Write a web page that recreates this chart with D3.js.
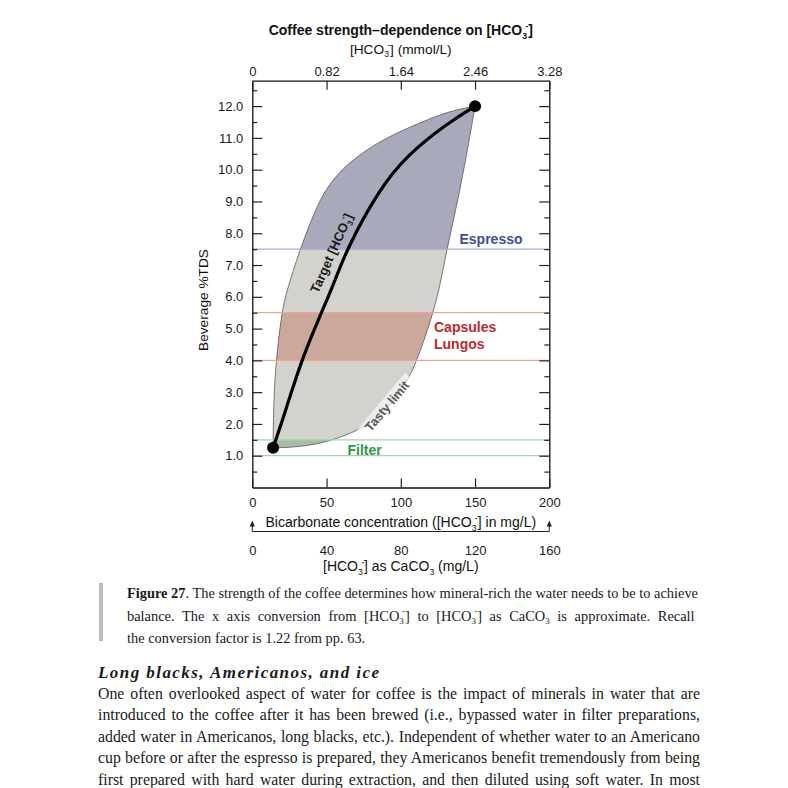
<!DOCTYPE html>
<html><head><meta charset="utf-8">
<script src="https://cdn.jsdelivr.net/npm/d3@7"></script>
<style>body{margin:0;background:#fff}svg{display:block}</style>
</head><body>
<svg id="c" width="788" height="788"></svg>
<script>
// ---------------- data ----------------
const xTicksMg = [0, 50, 100, 150, 200];
const xTicksMmol = [0, 0.82, 1.64, 2.46, 3.28];
const xTicksCaCO3 = [0, 40, 80, 120, 160];
const yTicks = [1, 2, 3, 4, 5, 6, 7, 8, 9, 10, 11, 12];
const yMinor = [0.5, 1.5, 2.5, 3.5, 4.5, 5.5, 6.5, 7.5, 8.5, 9.5, 10.5, 11.5, 12.5];

// upper (left) boundary of the region, mg/L vs %TDS
const upperX = [14, 14, 14.5, 16, 19.8, 23.2, 32.2, 40, 48, 58.5, 70.4, 89.5, 113, 133, 150];
const upperY = [1.25, 1.5, 2.8, 4.0, 5.5, 6.2, 7.5, 8.45, 9.3, 9.92, 10.42, 11.0, 11.48, 11.85, 12.0];
// "tasty limit" (right) boundary
const tastyX = [14, 25, 40, 54, 72, 90, 105, 111, 122, 127, 131, 140, 148, 150];
const tastyY = [1.25, 1.26, 1.33, 1.49, 1.8, 2.35, 3.4, 4.0, 5.5, 6.5, 7.5, 9.35, 11.45, 12.0];
// target [HCO3-] curve
const targetX = [14, 22, 33, 46.5, 54, 63.5, 85, 104, 131, 150];
const targetY = [1.25, 2.35, 4.0, 5.5, 6.3, 7.5, 9.35, 10.45, 11.45, 12.0];
// end points
const endX = [14, 150];
const endY = [1.25, 12.0];
// bands
const espressoLevel = 7.5;
const capsuleBand = [4.0, 5.5];
const filterBand = [1.0, 1.5];

// ---------------- setup ----------------
const svg = d3.select('#c');
const SANS = '"Liberation Sans", Arial, Helvetica, sans-serif';
const SERIF = '"Liberation Serif", "Times New Roman", serif';
const X0 = 252.3, X1 = 549.3, Y0 = 487.5, Y1 = 80.7;
const x = d3.scaleLinear().domain([0, 200]).range([X0, X1]);
const xm = d3.scaleLinear().domain([0, 3.28]).range([X0, X1]);
const xc = d3.scaleLinear().domain([0, 160]).range([X0, X1]);
const y = d3.scaleLinear().domain([0, 12.8]).range([Y0, Y1]);

function rich(t, segs, fs) {
  let cur = 0;
  segs.forEach(s => {
    const [txt, type] = typeof s === 'string' ? [s, 'n'] : s;
    const ts = t.append('tspan').text(txt);
    let target = 0;
    if (type === 'sub') { ts.style('font-size', fs * 0.62 + 'px'); target = fs * 0.25; }
    else if (type === 'sup') { ts.style('font-size', fs * 0.62 + 'px'); target = -fs * 0.42; ts.attr('dx', -fs * 0.12); }
    else if (type === 'b') { ts.style('font-weight', 'bold'); }
    if (target !== cur) ts.attr('dy', target - cur);
    cur = target;
  });
}
const HCO = ['[HCO', ['3', 'sub'], ['-', 'sup'], ']'];

const zip = (a, b) => a.map((v, i) => [v, b[i]]);
const upper = zip(upperX, upperY);
const tasty = zip(tastyX, tastyY);
const target = zip(targetX, targetY);

const line = d3.line().x(d => x(d[0])).y(d => y(d[1])).curve(d3.curveBasis);
const shapeD = line(upper) + 'L' + line(tasty.slice().reverse()).slice(1) + 'Z';

const defs = svg.append('defs');
defs.append('clipPath').attr('id', 'shapeClip').append('path').attr('d', shapeD);

// base fill
svg.append('path').attr('d', shapeD).attr('fill', '#d3d2cd');
const clipped = svg.append('g').attr('clip-path', 'url(#shapeClip)');
clipped.append('rect').attr('x', X0).attr('width', X1 - X0)
  .attr('y', y(12.8)).attr('height', y(espressoLevel) - y(12.8)).attr('fill', '#a9a9bc');
clipped.append('rect').attr('x', X0).attr('width', X1 - X0)
  .attr('y', y(capsuleBand[1])).attr('height', y(capsuleBand[0]) - y(capsuleBand[1])).attr('fill', '#cba899');
clipped.append('rect').attr('x', X0).attr('width', X1 - X0)
  .attr('y', y(filterBand[1])).attr('height', y(filterBand[0]) - y(filterBand[1])).attr('fill', '#a8bca5');
svg.append('path').attr('d', shapeD).attr('fill', 'none').attr('stroke', '#5a5a5a').attr('stroke-width', 0.8);

// band lines
function hline(v, c) {
  svg.append('line').attr('x1', X0).attr('x2', X1).attr('y1', y(v)).attr('y2', y(v))
    .attr('stroke', c).attr('stroke-width', 1.2);
}
hline(espressoLevel, '#a4aad6');
capsuleBand.forEach(v => hline(v, '#e9a696'));
filterBand.forEach(v => hline(v, '#a9d4aa'));

// target curve
svg.append('path').attr('d', line(target)).attr('fill', 'none').attr('stroke', '#000').attr('stroke-width', 3.2);

// tasty limit label
const tl = svg.append('g').attr('transform', 'translate(387,406) rotate(-50)');
tl.append('rect').attr('x', -37).attr('y', -7.5).attr('width', 74).attr('height', 14.5)
  .attr('fill', '#fff').attr('opacity', 0.6);
tl.append('text').attr('text-anchor', 'middle').attr('y', 4.4)
  .style('font-family', SANS).style('font-size', '12.5px').style('font-weight', 'bold')
  .attr('fill', '#555').text('Tasty limit');

// target label
const tg = svg.append('text').attr('transform', 'translate(335.5,255) rotate(-66)')
  .attr('text-anchor', 'middle').style('font-family', SANS).style('font-size', '13px')
  .style('font-weight', 'bold').attr('fill', '#1a1a1a');
rich(tg, ['Target ', ...HCO], 13);

// band labels
function lab(tx, xx, yy, c) {
  svg.append('text').attr('x', xx).attr('y', yy).text(tx).attr('fill', c)
    .style('font-family', SANS).style('font-size', '14px').style('font-weight', 'bold');
}
lab('Espresso', 459.5, 244, '#3a4e96');
lab('Capsules', 434, 331.5, '#c1272d');
lab('Lungos', 434, 348.5, '#c1272d');
lab('Filter', 347.5, 455, '#2e9a47');

// end dots
svg.selectAll('circle.end').data(zip(endX, endY)).join('circle').attr('class', 'end')
  .attr('cx', d => x(d[0])).attr('cy', d => y(d[1])).attr('r', 6).attr('fill', '#000');

// ---------------- axes ----------------
function styleAxis(g) {
  g.attr('font-family', SANS).attr('font-size', 13);
  g.selectAll('text').attr('fill', '#1a1a1a');
  g.selectAll('.tick line').attr('stroke', '#222').attr('stroke-width', 1.2);
  g.select('.domain').attr('stroke', '#111').attr('stroke-width', 1.3);
}
const fmtM = d => d === 0 ? '0' : d.toFixed(2);
svg.append('g').attr('transform', `translate(${X0},0)`)
  .call(d3.axisLeft(y).tickValues(yTicks).tickSize(-10).tickSizeOuter(0).tickPadding(9).tickFormat(d3.format('.1f')))
  .call(styleAxis);
svg.append('g').attr('transform', `translate(${X0},0)`)
  .call(d3.axisLeft(y).tickValues(yMinor).tickSize(-5).tickSizeOuter(0).tickFormat(''))
  .call(styleAxis).call(g => g.select('.domain').remove());
svg.append('g').attr('transform', `translate(${X1},0)`)
  .call(d3.axisRight(y).tickValues(yTicks).tickSize(-10).tickSizeOuter(0).tickFormat(''))
  .call(styleAxis);
svg.append('g').attr('transform', `translate(${X1},0)`)
  .call(d3.axisRight(y).tickValues(yMinor).tickSize(-5).tickSizeOuter(0).tickFormat(''))
  .call(styleAxis).call(g => g.select('.domain').remove());
svg.append('g').attr('transform', `translate(0,${Y1})`)
  .call(d3.axisTop(xm).tickValues(xTicksMmol).tickSize(-9).tickSizeOuter(0).tickPadding(5).tickFormat(fmtM))
  .call(styleAxis);
svg.append('g').attr('transform', `translate(0,${Y0})`)
  .call(d3.axisBottom(x).tickValues(xTicksMg).tickSize(-9).tickSizeOuter(0).tickPadding(10.5))
  .call(styleAxis);
svg.append('g').attr('transform', `translate(0,546)`)
  .call(d3.axisBottom(xc).tickValues(xTicksCaCO3).tickSize(0).tickPadding(0))
  .call(styleAxis).call(g => g.select('.domain').remove());

// arrow line
const AY = 531.5;
svg.append('path').attr('d', `M${X0},${AY}H${X1}M${X0},${AY}V525M${X1},${AY}V525`)
  .attr('fill', 'none').attr('stroke', '#222').attr('stroke-width', 1);
[X0, X1].forEach(ax => svg.append('path')
  .attr('d', `M${ax},520.5L${ax - 2.6},526.5L${ax + 2.6},526.5Z`).attr('fill', '#222'));

// titles
function ctext(xx, yy, segs, fs, bold) {
  const t = svg.append('text').attr('x', xx).attr('y', yy).attr('text-anchor', 'middle')
    .style('font-family', SANS).style('font-size', fs + 'px').attr('fill', '#111');
  if (bold) t.style('font-weight', 'bold');
  rich(t, segs, fs);
  return t;
}
ctext(400.8, 35, ['Coffee strength\u2013dependence on ', ...HCO], 14, true);
ctext(400.8, 54, [...HCO, ' (mmol/L)'], 13.7, false);
ctext(400.8, 527, ['Bicarbonate concentration (', ...HCO, ' in mg/L)'], 14, false);
ctext(400.8, 571, [...HCO, ' as CaCO', ['3', 'sub'], ' (mg/L)'], 14, false);
svg.append('text').attr('transform', 'translate(208,300) rotate(-90)').attr('text-anchor', 'middle')
  .style('font-family', SANS).style('font-size', '13.7px').attr('fill', '#111').text('Beverage %TDS');

// ---------------- caption & body ----------------
svg.append('rect').attr('x', 99).attr('y', 583).attr('width', 4).attr('height', 58).attr('fill', '#bdbdbd');

function para(xx, yy, segs, fs, width, style) {
  const t = svg.append('text').attr('x', xx).attr('y', yy)
    .style('font-family', SERIF).style('font-size', fs + 'px').attr('fill', '#1a1a1a');
  if (style) Object.entries(style).forEach(([k, v]) => t.style(k, v));
  rich(t, segs, fs);
  if (width) {
    const nat = t.node().getComputedTextLength();
    const spaces = (t.text().match(/ /g) || []).length;
    if (spaces) t.style('word-spacing', ((width - nat) / spaces) + 'px');
  }
  return t;
}
const CFS = 14.4, CW = 571, CX = 127;
para(CX, 598, [['Figure 27', 'b'], '. The strength of the coffee determines how mineral-rich the water needs to be to achieve'], CFS, CW);
para(CX, 620.5, ['balance. The x axis conversion from ', ...HCO, ' to ', ...HCO, ' as CaCO', ['3', 'sub'], ' is approximate. Recall'], CFS, CW);
para(CX, 643, ['the conversion factor is 1.22 from pp. 63.'], CFS, 0);

const BFS = 15.8, BW = 602, BX = 98;
para(BX, 678, ['Long blacks, Americanos, and ice'], 17, 0, { 'font-weight': 'bold', 'font-style': 'italic' })
  .attr('textLength', 281).attr('lengthAdjust', 'spacing');
const bodyLines = [
  'One often overlooked aspect of water for coffee is the impact of minerals in water that are',
  'introduced to the coffee after it has been brewed (i.e., bypassed water in filter preparations,',
  'added water in Americanos, long blacks, etc.). Independent of whether water to an Americano',
  'cup before or after the espresso is prepared, they Americanos benefit tremendously from being',
  'first prepared with hard water during extraction, and then diluted using soft water. In most'
];
bodyLines.forEach((l, i) => para(BX, 699 + i * 21.4, [l], BFS, BW));
</script>
</body></html>
